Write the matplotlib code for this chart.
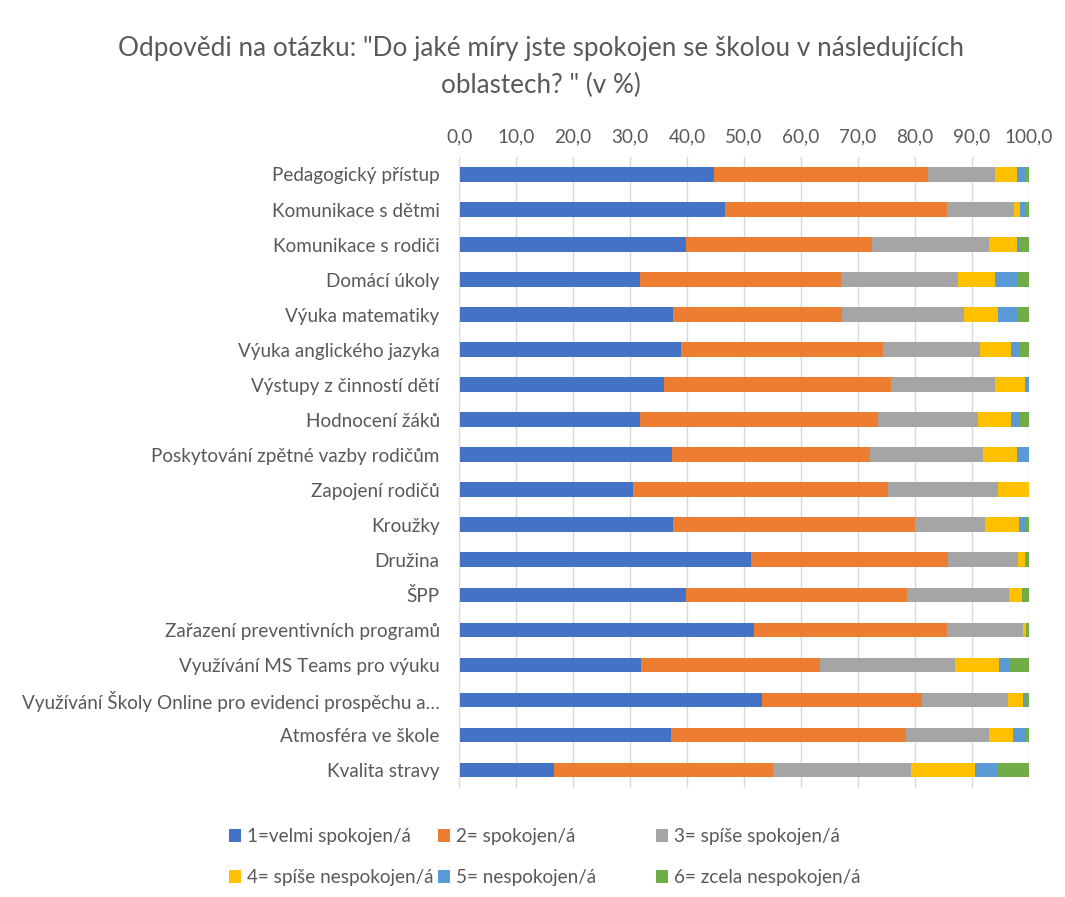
import matplotlib
matplotlib.use("Agg")
import matplotlib.pyplot as plt
import numpy as np

plt.rcParams['font.family'] = ['Lato', 'DejaVu Sans']

categories = [
    "Pedagogický přístup",
    "Komunikace s dětmi",
    "Komunikace s rodiči",
    "Domácí úkoly",
    "Výuka matematiky",
    "Výuka anglického jazyka",
    "Výstupy z činností dětí",
    "Hodnocení žáků",
    "Poskytování zpětné vazby rodičům",
    "Zapojení rodičů",
    "Kroužky",
    "Družina",
    "ŠPP",
    "Zařazení preventivních programů",
    "Využívání MS Teams pro výuku",
    "Využívání Školy Online pro evidenci prospěchu a…",
    "Atmosféra ve škole",
    "Kvalita stravy",
]

# shares in % per answer
velmi = [44.8, 46.7, 39.8, 31.7, 37.6, 38.9, 36.0, 31.7, 37.4, 30.5, 37.6, 51.2, 39.8, 51.8, 31.9, 53.2, 37.2, 16.6]
spokojen = [37.5, 38.9, 32.6, 35.4, 29.6, 35.5, 39.9, 41.9, 34.8, 44.8, 42.4, 34.6, 38.8, 33.8, 31.5, 28.0, 41.2, 38.5]
spise_spok = [11.8, 11.8, 20.6, 20.5, 21.5, 17.1, 18.1, 17.5, 19.7, 19.3, 12.4, 12.3, 17.9, 13.4, 23.7, 15.1, 14.6, 24.2]
spise_nespok = [3.8, 1.1, 4.9, 6.5, 5.9, 5.3, 5.4, 5.7, 6.0, 5.4, 5.8, 1.3, 2.3, 0.5, 7.6, 2.6, 4.3, 11.3]
nespokojen = [1.5, 0.9, 0.6, 3.8, 3.3, 1.7, 0.6, 1.7, 2.1, 0.0, 1.2, 0.0, 0.0, 0.0, 1.9, 0.5, 2.2, 3.9]
zcela = [0.6, 0.6, 1.5, 2.1, 2.1, 1.5, 0.0, 1.5, 0.0, 0.0, 0.6, 0.6, 1.2, 0.5, 3.4, 0.6, 0.5, 5.5]

series = [velmi, spokojen, spise_spok, spise_nespok, nespokojen, zcela]
labels = ["1=velmi spokojen/á", "2= spokojen/á", "3= spíše spokojen/á",
          "4= spíše nespokojen/á", "5= nespokojen/á", "6= zcela nespokojen/á"]
colors = ["#4472C4", "#ED7D31", "#A5A5A5", "#FFC000", "#5B9BD5", "#70AD47"]

txt = "#595959"
fs = 13.6

fig = plt.figure(figsize=(10.65, 8.97), dpi=100)
ax = fig.add_axes([0.431, 0.122, 0.535, 0.703])

y = np.arange(len(categories))
left = np.zeros(len(categories))
handles = []
for vals, lab, col in zip(series, labels, colors):
    h = ax.barh(y, vals, left=left, height=0.42, color=col, label=lab)
    handles.append(h)
    left += np.array(vals)

ax.set_xlim(0, 100)
ax.set_ylim(len(categories) - 0.5, -0.5)
ax.set_yticks(y)
ax.set_yticklabels(categories, fontsize=fs, color=txt)
ax.xaxis.tick_top()
ticks = np.arange(0, 101, 10)
ax.set_xticks(ticks)
ax.set_xticklabels([f"{t:.1f}".replace(".", ",") for t in ticks], fontsize=fs, color=txt)
ax.tick_params(axis='x', length=0, pad=8)
ax.tick_params(axis='y', length=0, pad=14)
ax.grid(axis='x', color="#D9D9D9", linewidth=1)
ax.set_axisbelow(True)
for s in ["top", "right", "bottom"]:
    ax.spines[s].set_visible(False)
ax.spines["left"].set_color("#D9D9D9")

fig.text(0.508, 0.946, 'Odpovědi na otázku: "Do jaké míry jste spokojen se školou v následujících',
         ha='center', va='center', fontsize=18.8, color=txt)
fig.text(0.508, 0.905, 'oblastech? " (v %)', ha='center', va='center', fontsize=18.8, color=txt)

xs = [0.208, 0.404, 0.609]
for i, x0 in enumerate(xs):
    leg = fig.legend([handles[i], handles[i + 3]], [labels[i], labels[i + 3]],
                     loc='upper left', bbox_to_anchor=(x0, 0.085), frameon=False,
                     fontsize=fs, handlelength=0.65, handleheight=0.65,
                     handletextpad=0.3, labelspacing=1.25, borderaxespad=0)
    for t in leg.get_texts():
        t.set_color(txt)

fig.savefig("out.png", dpi=100)
